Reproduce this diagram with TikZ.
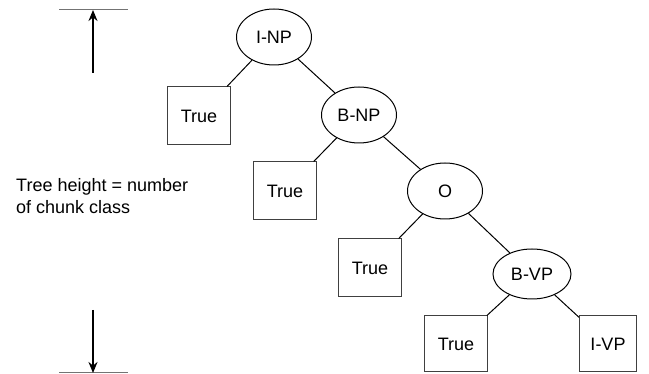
\documentclass[tikz,border=0pt]{standalone}
\usepackage{fontspec}
\setmainfont{Liberation Sans}
\usetikzlibrary{shapes.geometric,arrows.meta}
\begin{document}
\begin{tikzpicture}[x=1pt,y=-1pt,
  every node/.style={font=\fontsize{18}{22}\selectfont},
  cls/.style={draw=black,line width=1pt,ellipse,minimum width=75pt,minimum height=56pt,inner sep=0pt},
  leaf/.style={draw=black!75,line width=1pt,rectangle,minimum width=63pt,minimum height=58pt,inner sep=0pt},
  edge/.style={draw=black,line width=1pt},
  bar/.style={draw=black!55,line width=1pt},
  dim/.style={draw=black,line width=2pt,-{Stealth[length=11pt,width=9pt]}}]
\useasboundingbox (0,0) rectangle (649,374);
% tree nodes
\node[cls] (inp) at (274,37) {I-NP};
\node[leaf] (t1) at (199,116) {True};
\node[cls] (bnp) at (359,115) {B-NP};
\node[leaf] (t2) at (285,191) {True};
\node[cls] (o) at (445,191) {O};
\node[leaf] (t3) at (370,268) {True};
\node[cls,minimum width=78pt,minimum height=50pt] (bvp) at (532,274) {B-VP};
\node[leaf,minimum height=56pt] (t4) at (456,344) {True};
\node[leaf,minimum width=57pt,minimum height=56pt] (ivp) at (608,344) {I-VP};
% edges
\draw[edge] (inp) -- (t1);
\draw[edge] (inp) -- (bnp);
\draw[edge] (bnp) -- (t2);
\draw[edge] (bnp) -- (o);
\draw[edge] (o) -- (t3);
\draw[edge] (o) -- (bvp);
\draw[edge] (bvp) -- (t4);
\draw[edge] (bvp) -- (ivp);
% height indicator
\coordinate (topL) at (59,10);
\coordinate (topR) at (128,10);
\coordinate (botL) at (59,373);
\coordinate (botR) at (128,373);
\coordinate (upS) at (93,73);
\coordinate (upE) at (93,10);
\coordinate (dnS) at (93,310);
\coordinate (dnE) at (93,373);
\draw[bar] (topL) -- (topR);
\draw[bar] (botL) -- (botR);
\draw[dim] (upS) -- (upE);
\draw[dim] (dnS) -- (dnE);
\node[anchor=base west,inner sep=0pt,align=left] (lbl) at (16,214) {Tree height = number\\of chunk class};
\end{tikzpicture}
\end{document}
